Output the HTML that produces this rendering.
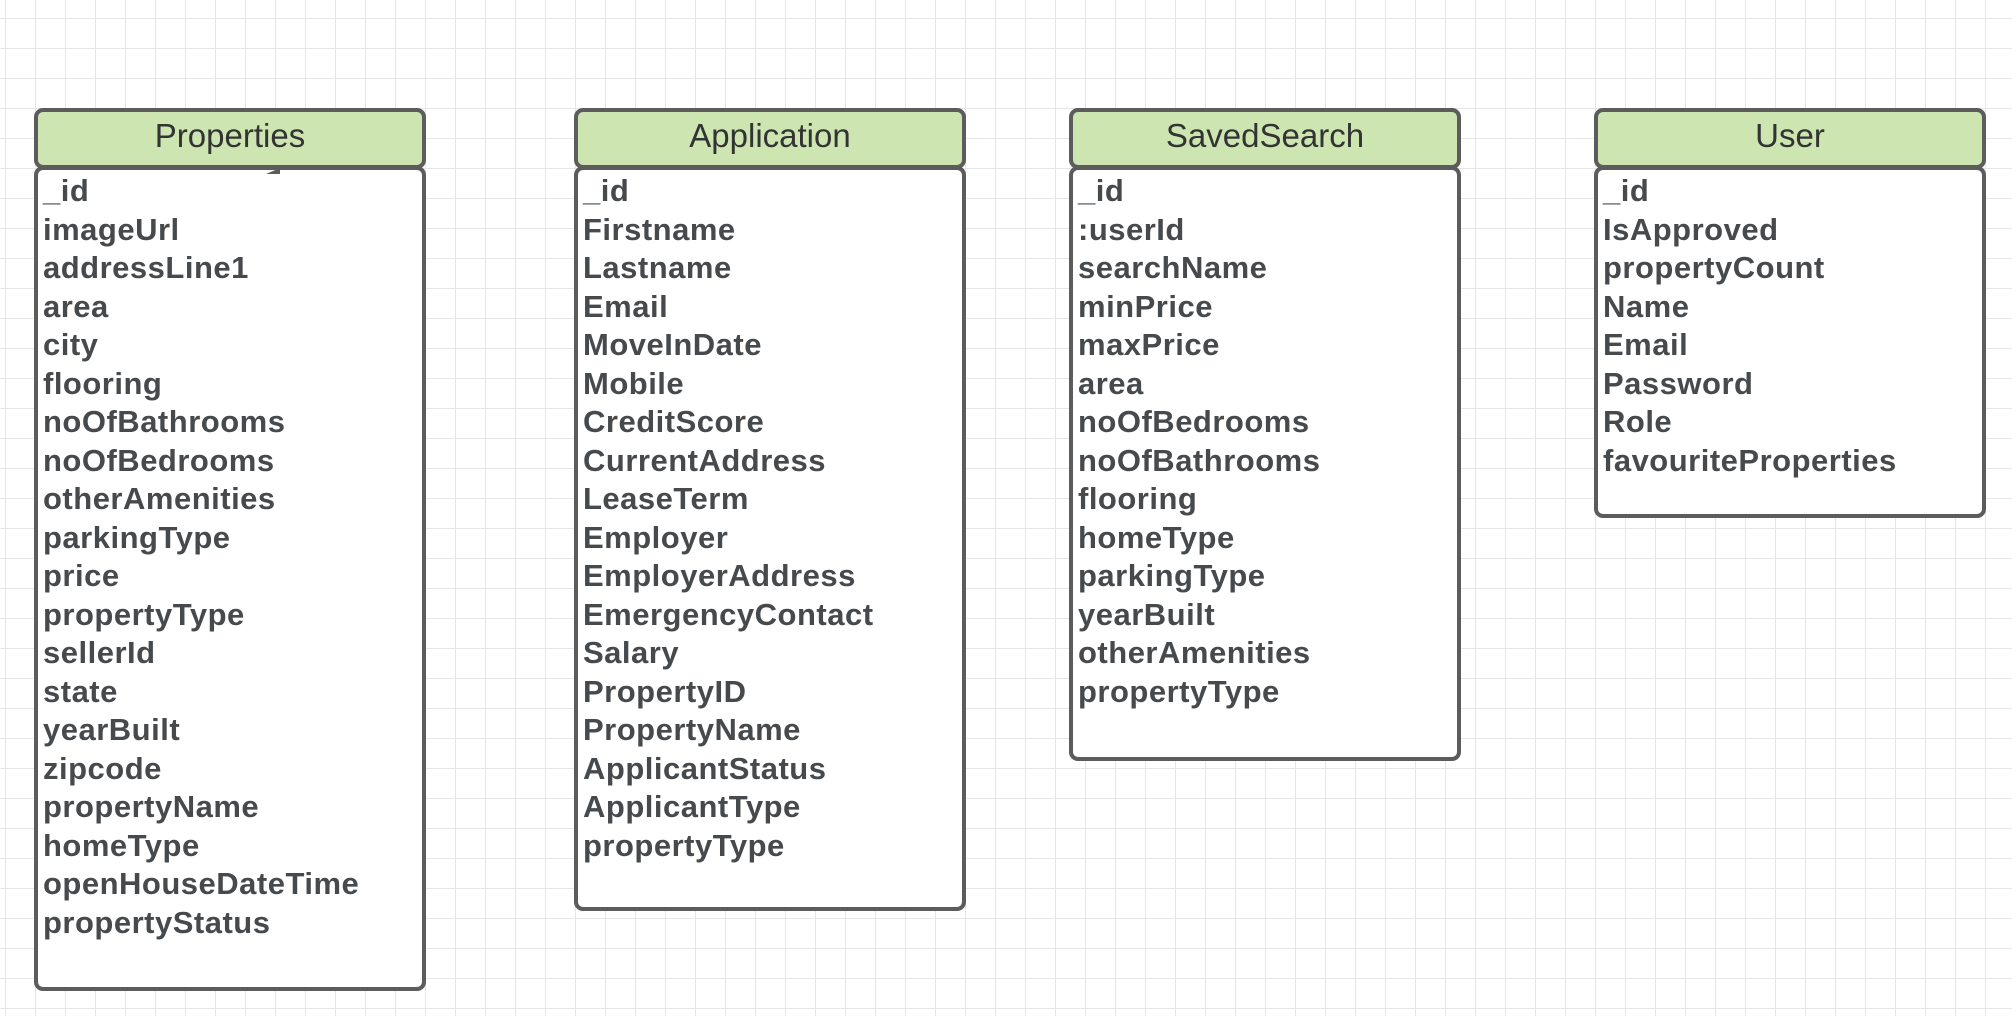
<!DOCTYPE html>
<html><head><meta charset="utf-8"><style>
html,body{margin:0;padding:0}
body{width:2012px;height:1016px;position:relative;overflow:hidden;background-color:#fff;
background-image:linear-gradient(to right,#e6e6e6 1px,transparent 1px),linear-gradient(to bottom,#e6e6e6 1px,transparent 1px);
background-size:30px 30px;background-position:5px 18px;font-family:"Liberation Sans",sans-serif}
.h{position:absolute;box-sizing:border-box;border:4px solid #5c5c5c;border-radius:9px;background:#cde5b1;
text-align:center;font-size:33px;color:#333;line-height:47px;height:61px}
.b{position:absolute;box-sizing:border-box;border:4px solid #5c5c5c;border-radius:9px;background:#fff;
padding:0 0 0 5px;font-size:31px;letter-spacing:0.5px;font-weight:bold;color:#464a4d;line-height:38.5px}
.b div{height:38.5px;white-space:nowrap}
</style></head><body>
<div class="h" style="left:34px;top:108px;width:392px">Properties</div>
<div class="b" style="left:34px;top:166px;width:392px;height:825px;padding-top:2px">
<div>_id</div><div>imageUrl</div><div>addressLine1</div><div>area</div><div>city</div><div>flooring</div><div>noOfBathrooms</div><div>noOfBedrooms</div><div>otherAmenities</div><div>parkingType</div><div>price</div><div>propertyType</div><div>sellerId</div><div>state</div><div>yearBuilt</div><div>zipcode</div><div>propertyName</div><div>homeType</div><div>openHouseDateTime</div><div>propertyStatus</div></div>
<div style="position:absolute;left:266px;top:168px;width:0;height:0;border-left:14px solid transparent;border-bottom:6px solid #5c5c5c"></div>

<div class="h" style="left:574px;top:108px;width:392px">Application</div>
<div class="b" style="left:574px;top:166px;width:392px;height:745px;padding-top:2px">
<div>_id</div><div>Firstname</div><div>Lastname</div><div>Email</div><div>MoveInDate</div><div>Mobile</div><div>CreditScore</div><div>CurrentAddress</div><div>LeaseTerm</div><div>Employer</div><div>EmployerAddress</div><div>EmergencyContact</div><div>Salary</div><div>PropertyID</div><div>PropertyName</div><div>ApplicantStatus</div><div>ApplicantType</div><div>propertyType</div></div>

<div class="h" style="left:1069px;top:108px;width:392px">SavedSearch</div>
<div class="b" style="left:1069px;top:166px;width:392px;height:595px;padding-top:2px">
<div>_id</div><div>:userId</div><div>searchName</div><div>minPrice</div><div>maxPrice</div><div>area</div><div>noOfBedrooms</div><div>noOfBathrooms</div><div>flooring</div><div>homeType</div><div>parkingType</div><div>yearBuilt</div><div>otherAmenities</div><div>propertyType</div></div>

<div class="h" style="left:1594px;top:108px;width:392px">User</div>
<div class="b" style="left:1594px;top:166px;width:392px;height:352px;padding-top:2px">
<div>_id</div><div>IsApproved</div><div>propertyCount</div><div>Name</div><div>Email</div><div>Password</div><div>Role</div><div>favouriteProperties</div></div>
</body></html>
